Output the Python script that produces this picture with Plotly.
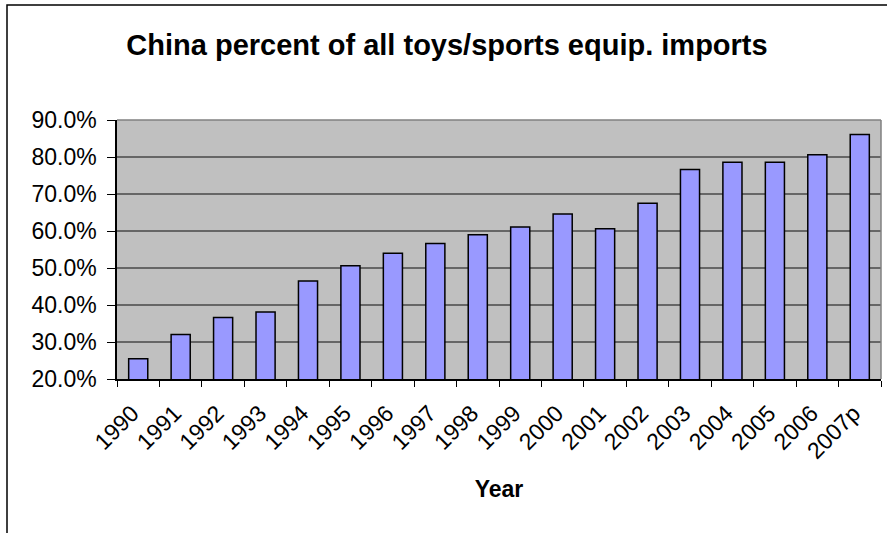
import plotly.graph_objects as go

years = ["1990", "1991", "1992", "1993", "1994", "1995", "1996", "1997", "1998",
         "1999", "2000", "2001", "2002", "2003", "2004", "2005", "2006", "2007p"]
china_share = [25.5, 32.0, 36.6, 38.1, 46.5, 50.6, 54.0, 56.6, 59.0,
               61.1, 64.6, 60.6, 67.5, 76.6, 78.6, 78.6, 80.6, 86.1]
y_ticks = [20, 30, 40, 50, 60, 70, 80, 90]
y_tick_labels = ["20.0%", "30.0%", "40.0%", "50.0%", "60.0%", "70.0%", "80.0%", "90.0%"]

W, H = 887, 533
L, R, T, B = 117, 6, 120, 154
pw = W - L - R
ph = H - T - B

fig = go.Figure(
    go.Bar(
        x=years,
        y=china_share,
        base=0,
        width=0.45,
        marker=dict(color="#9999FF", line=dict(color="black", width=1.5)),
        hoverinfo="x+y",
    )
)

font_main = "Liberation Sans, Arial, sans-serif"

fig.update_layout(
    width=W,
    height=H,
    margin=dict(l=L, r=R, t=T, b=B),
    paper_bgcolor="white",
    plot_bgcolor="#C0C0C0",
    showlegend=False,
    font=dict(family=font_main, color="black"),
    title=dict(
        text="<b>China percent of all toys/sports equip. imports</b>",
        x=447 / W,
        xanchor="center",
        y=1 - 45 / H,
        yanchor="middle",
        font=dict(size=29, family=font_main, color="black"),
    ),
    bargap=0.55,
)

fig.update_xaxes(
    type="category",
    tickangle=-45,
    tickfont=dict(size=23, family=font_main, color="black"),
    ticks="outside",
    tickson="boundaries",
    ticklen=6,
    tickcolor="black",
    tickwidth=1,
    ticklabelstandoff=10,
    ticklabelshift=-6,
    showline=True,
    linecolor="black",
    linewidth=1.5,
    showgrid=False,
    title=dict(text="<b>Year</b>", font=dict(size=23, family=font_main, color="black"), standoff=18),
    range=[-0.5, len(years) - 0.5],
)

fig.update_yaxes(
    range=[20, 90],
    tickvals=y_ticks,
    ticktext=y_tick_labels,
    tickfont=dict(size=23, family=font_main, color="black"),
    ticks="outside",
    ticklen=8,
    tickcolor="black",
    tickwidth=1,
    ticklabelstandoff=6,
    showline=True,
    linecolor="black",
    linewidth=1.5,
    showgrid=True,
    gridcolor="#666666",
    gridwidth=1.5,
    zeroline=False,
)

# grey frame on the top and right of the plotting area
fig.add_shape(type="line", xref="paper", yref="paper", x0=0, x1=1, y0=1, y1=1,
              line=dict(color="#808080", width=1.5), layer="above")
fig.add_shape(type="line", xref="paper", yref="paper", x0=1, x1=1, y0=0, y1=1,
              line=dict(color="#808080", width=1.5), layer="above")

# outer chart border (extends beyond the right and bottom edges)
fig.add_shape(type="rect", xref="paper", yref="paper",
              x0=(7 - L) / pw, x1=(W + 20 - L) / pw,
              y0=-(H + 20 - T - ph) / ph, y1=1 + (T - 5) / ph,
              line=dict(color="black", width=1.5), fillcolor="rgba(0,0,0,0)", layer="below")

fig.write_html("out.html")
